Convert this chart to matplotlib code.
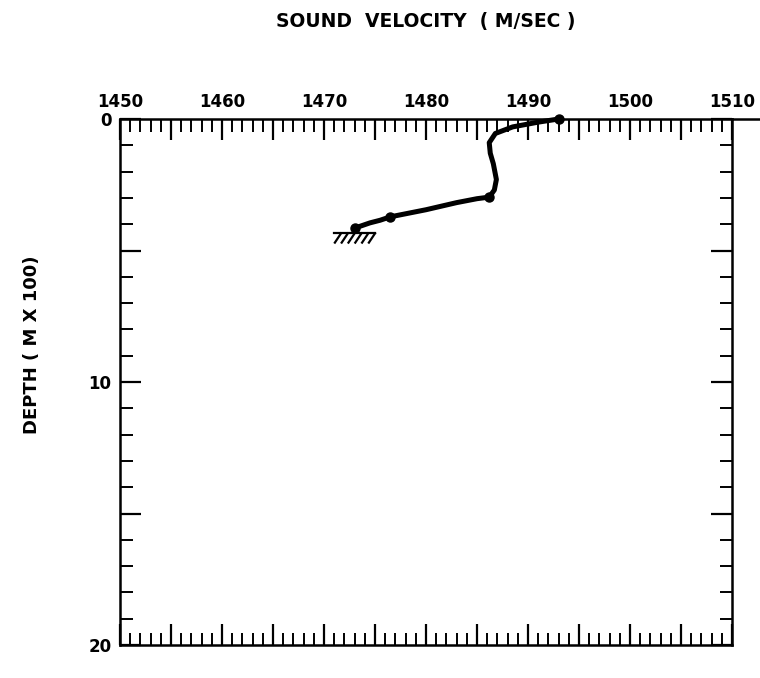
import matplotlib
matplotlib.use("Agg")
import matplotlib.pyplot as plt
from matplotlib.ticker import MultipleLocator, FixedLocator

# Sound velocity profile: velocity (m/s) against depth (hundreds of metres)
velocity = [1493.0, 1491.0, 1488.5, 1486.8, 1486.2, 1486.3, 1486.6, 1486.9,
            1486.7, 1486.2, 1485.0, 1483.0, 1480.0, 1476.5, 1475.5, 1474.5, 1473.0]
depth = [0.0, 0.12, 0.30, 0.55, 0.90, 1.30, 1.70, 2.30,
         2.70, 2.97, 3.03, 3.18, 3.45, 3.72, 3.85, 3.95, 4.15]
marked = [0, 9, 13, 16]  # observation points drawn as dots

bottom_depth = 4.35
bottom_span = [1471.0, 1475.0]

x_ticks = [1450, 1460, 1470, 1480, 1490, 1500, 1510]
y_ticks = [0, 10, 20]

plt.rcParams["font.family"] = ["DejaVu Sans"]
plt.rcParams["font.weight"] = "bold"

fig = plt.figure(figsize=(7.6, 6.78), dpi=100)
ax = fig.add_axes([120 / 760, 1 - 645 / 678, 612 / 760, 526 / 678])

ax.set_xlim(x_ticks[0], x_ticks[-1])
ax.set_ylim(y_ticks[-1], y_ticks[0])

# velocity profile
ax.plot(velocity, depth, color="black", lw=3.6, solid_capstyle="round",
        solid_joinstyle="round", clip_on=False, zorder=3)
ax.plot([velocity[i] for i in marked], [depth[i] for i in marked], "o",
        color="black", ms=6.5, clip_on=False, zorder=4)

# sea-floor symbol
ax.plot(bottom_span, [bottom_depth, bottom_depth], color="black", lw=1.6)
n_hatch = 6
step = (bottom_span[1] - bottom_span[0]) / n_hatch
for k in range(n_hatch):
    x0 = bottom_span[0] + (k + 1) * step
    ax.plot([x0, x0 - step * 0.9], [bottom_depth, bottom_depth + 0.35],
            color="black", lw=1.6)

# frame and ticks
for s in ax.spines.values():
    s.set_linewidth(1.8)

ax.xaxis.set_major_locator(FixedLocator([v for v in range(1450, 1511, 5)]))
ax.xaxis.set_minor_locator(MultipleLocator(1))
ax.yaxis.set_major_locator(FixedLocator([0, 5, 10, 15, 20]))
ax.yaxis.set_minor_locator(MultipleLocator(1))

ax.tick_params(axis="both", which="major", direction="in", length=15, width=1.6,
               top=True, bottom=True, left=True, right=True,
               labeltop=True, labelbottom=False, labelleft=True, labelright=False,
               labelsize=12, pad=6)
ax.tick_params(axis="both", which="minor", direction="in", length=9, width=1.4,
               top=True, bottom=True, left=True, right=True)

ax.set_xticklabels([str(v) if v % 10 == 0 else "" for v in range(1450, 1511, 5)],
                   fontweight="bold")
ax.set_yticklabels(["0", "", "10", "", "20"], fontweight="bold")

# top edge runs past the right frame
ax.plot([1, 1.045], [1, 1], transform=ax.transAxes, color="black", lw=1.8,
        clip_on=False)

fig.text(426 / 760, 1 - 22 / 678, "SOUND  VELOCITY  ( M/SEC )", ha="center",
         va="center", fontsize=13.5, fontweight="bold")
fig.text(32 / 760, 1 - 345 / 678, "DEPTH ( M X 100)", ha="center", va="center",
         rotation=90, fontsize=13, fontweight="bold")

fig.savefig("out.png", dpi=100)
